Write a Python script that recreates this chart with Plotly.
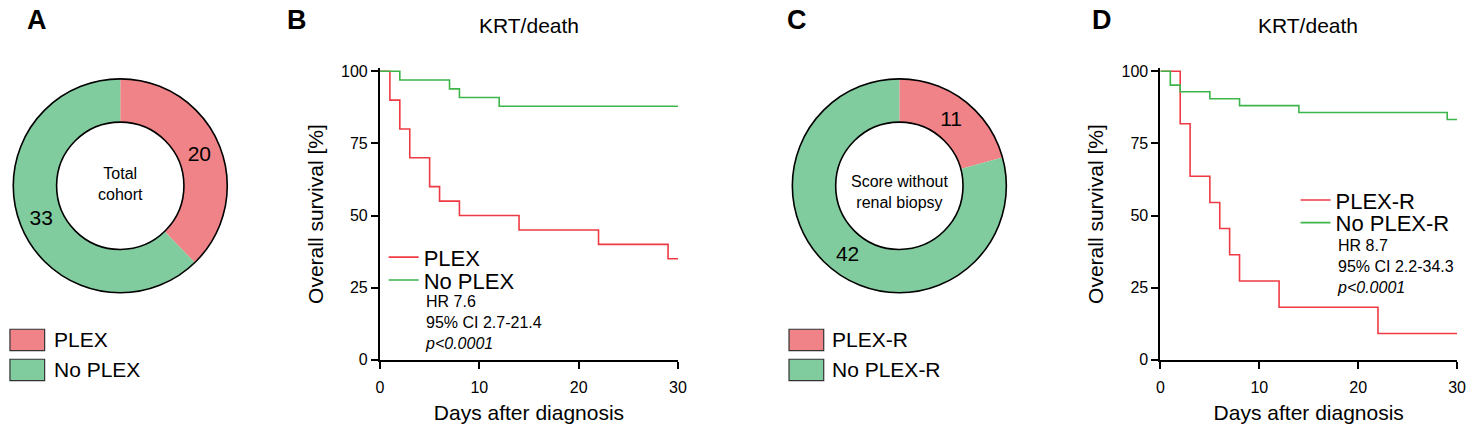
import plotly.graph_objects as go

W, H = 1476, 436
FONT = "Liberation Sans, Arial, Helvetica, sans-serif"

# ---------------- data ----------------
pie_a_labels = ["PLEX", "No PLEX"]
pie_a_values = [20, 33]
pie_a_center = ["Total", "cohort"]

pie_c_labels = ["PLEX-R", "No PLEX-R"]
pie_c_values = [11, 42]
pie_c_center = ["Score without", "renal biopsy"]

b_plex_days = [0, 1, 2, 3, 5, 6, 8, 14, 22, 29, 30]
b_plex_surv = [100, 90, 80, 70, 60, 55, 50, 45, 40, 35, 35]
b_noplex_days = [0, 2, 7, 8, 12, 30]
b_noplex_surv = [100, 97.0, 93.9, 90.9, 87.9, 87.9]
b_stats = ["HR 7.6", "95% CI 2.7-21.4", "<i>p<0.0001</i>"]

d_plexr_days = [0, 2, 3, 5, 6, 7, 8, 12, 22, 30]
d_plexr_surv = [100, 81.8, 63.6, 54.5, 45.5, 36.4, 27.3, 18.2, 9.1, 9.1]
d_noplexr_days = [0, 1, 2, 5, 8, 14, 29, 30]
d_noplexr_surv = [100, 95.2, 92.9, 90.5, 88.1, 85.7, 83.3, 83.3]
d_stats = ["HR 8.7", "95% CI 2.2-34.3", "<i>p<0.0001</i>"]

x_ticks = [0, 10, 20, 30]
y_ticks = [0, 25, 50, 75, 100]

PIE_RED = "#F08387"
PIE_GREEN = "#80CC9E"
LINE_RED = "#EE3B43"
LINE_GREEN = "#3DB54A"


def px(x):
    return min(max(x / W, 0.0), 1.0)


def py(y):
    return min(max(1 - y / H, 0.0), 1.0)


fig = go.Figure()

# ---------------- donuts ----------------
def add_donut(labels, values, cx, cy, r, hole):
    dom = dict(x=[px(cx - r), px(cx + r)], y=[py(cy + r), py(cy - r)])
    fig.add_trace(go.Pie(
        labels=labels, values=values, hole=hole, sort=False,
        direction="clockwise", rotation=0, domain=dom,
        marker=dict(colors=[PIE_RED, PIE_GREEN], line=dict(width=0)),
        textinfo="value", textposition="inside",
        insidetextorientation="horizontal",
        textfont=dict(size=21, color="black", family=FONT),
        showlegend=False, hoverinfo="label+value",
    ))
    # outline ring
    fig.add_trace(go.Pie(
        labels=["outline"], values=[1], hole=hole, sort=False,
        domain=dom, textinfo="none",
        marker=dict(colors=["rgba(0,0,0,0)"], line=dict(color="black", width=1.6)),
        showlegend=False, hoverinfo="skip",
    ))


add_donut(pie_a_labels, pie_a_values, 117.3, 186.8, 110.5, 0.595)
add_donut(pie_c_labels, pie_c_values, 903.3, 186.8, 110.5, 0.595)

# ---------------- KM curves ----------------
def km(days, surv, name, color, xa, ya, leg):
    fig.add_trace(go.Scatter(
        x=days, y=surv, mode="lines", line_shape="hv", name=name,
        line=dict(color=color, width=1.6), xaxis=xa, yaxis=ya, legend=leg,
    ))


km(b_plex_days, b_plex_surv, "PLEX", LINE_RED, "x", "y", "legend")
km(b_noplex_days, b_noplex_surv, "No PLEX", LINE_GREEN, "x", "y", "legend2")
km(d_plexr_days, d_plexr_surv, "PLEX-R", LINE_RED, "x2", "y2", "legend3")
km(d_noplexr_days, d_noplexr_surv, "No PLEX-R", LINE_GREEN, "x2", "y2", "legend4")

axis_common = dict(
    showline=True, linecolor="black", linewidth=2, ticks="outside",
    ticklen=7, tickwidth=2, tickcolor="black", showgrid=False, zeroline=False,
    tickfont=dict(size=16, color="black", family=FONT), fixedrange=True,
)

def xaxis(x0, x1, anchor):
    return dict(axis_common, domain=[px(x0), px(x1)], range=[0, 30],
                tickvals=x_ticks, anchor=anchor, ticklabelstandoff=5,
                title=dict(text="Days after diagnosis", standoff=10,
                           font=dict(size=21, color="black", family=FONT)))

def yaxis(anchor):
    # 0 at y=366.5px, 100 at y=68.5px; range extends to 101
    return dict(axis_common, domain=[py(366.5), py(65.5)], range=[0, 101],
                tickvals=y_ticks, anchor=anchor,
                title=dict(text="Overall survival [%]", standoff=12,
                           font=dict(size=21, color="black", family=FONT)))


def legend_at(x, y):
    return dict(x=px(x), y=py(y), xanchor="left", yanchor="middle",
                bgcolor="rgba(0,0,0,0)", borderwidth=0, itemwidth=30,
                font=dict(size=22, color="black", family=FONT))


annotations = []

def text(x, y, s, size, xanchor="center", bold=False, align="center"):
    annotations.append(dict(
        x=px(x), y=py(y), xref="paper", yref="paper", text=(f"<b>{s}</b>" if bold else s),
        showarrow=False, xanchor=xanchor, yanchor="middle", align=align,
        font=dict(size=size, color="black", family=FONT),
    ))

# panel letters
text(33, 16, "A", 27, bold=True)
text(296, 16, "B", 27, bold=True)
text(800, 16, "C", 27, bold=True)
text(1108, 16, "D", 27, bold=True)

# titles
text(530, 21.5, "KRT/death", 21)
text(1316, 21.5, "KRT/death", 21)

# donut centre text
text(117.3, 185, "<br>".join(pie_a_center), 16)
text(903.3, 193, "<br>".join(pie_c_center), 16)

# stats
text(422.5, 328.5, "<br>".join(b_stats), 16, xanchor="left", align="left")
text(1342.5, 270, "<br>".join(d_stats), 16, xanchor="left", align="left")

# donut legends (rectangles + labels)
shapes = []
def swatch(x0, y0, x1, y1, color):
    shapes.append(dict(type="rect", xref="paper", yref="paper",
                       x0=px(x0), x1=px(x1), y0=py(y1), y1=py(y0),
                       fillcolor=color, line=dict(color="#333333", width=1.2)))

swatch(6, 335, 41, 357, PIE_RED)
swatch(6, 366, 41, 388, PIE_GREEN)
text(48, 346, pie_a_labels[0], 21, xanchor="left")
text(48, 377, pie_a_labels[1], 21, xanchor="left")
swatch(792, 335, 827, 357, PIE_RED)
swatch(792, 366, 827, 388, PIE_GREEN)
text(833, 346, pie_c_labels[0], 21, xanchor="left")
text(833, 377, pie_c_labels[1], 21, xanchor="left")

fig.update_layout(
    width=W, height=H, margin=dict(l=0, r=0, t=0, b=0),
    paper_bgcolor="white", plot_bgcolor="white",
    font=dict(family=FONT, color="black"),
    xaxis=xaxis(379.3, 680, "y"), yaxis=yaxis("x"),
    xaxis2=xaxis(1166.7, 1466, "y2"), yaxis2=yaxis("x2"),
    legend=legend_at(383, 260.7), legend2=legend_at(383, 284.3),
    legend3=legend_at(1303, 201.7), legend4=legend_at(1303, 225),
    annotations=annotations, shapes=shapes, showlegend=True,
)

fig.write_html(
    "out.html",
    config=dict(displayModeBar=False),
    post_script="document.documentElement.style.margin='0';"
                "document.body.style.margin='0';document.body.style.padding='0';"
                "document.body.style.overflow='hidden';",
)
